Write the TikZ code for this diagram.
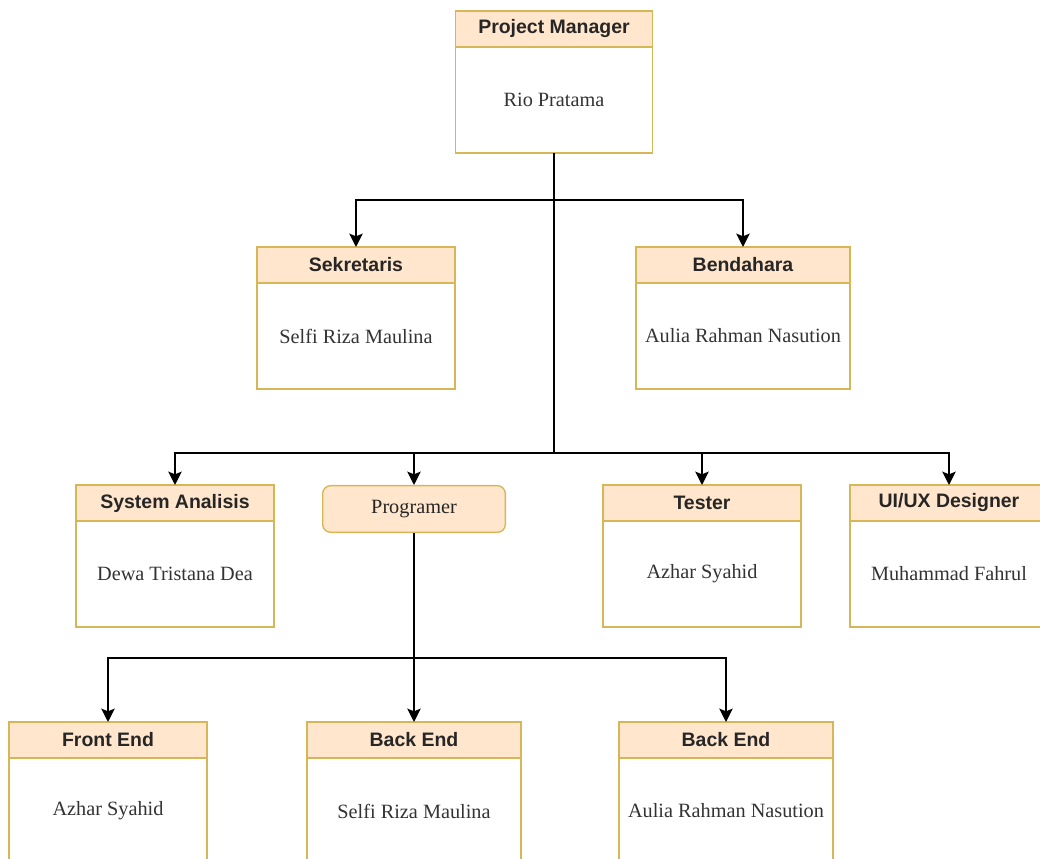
\documentclass[tikz,border=0pt]{standalone}
\usepackage{fontspec}
\setmainfont{Liberation Serif}
\setsansfont{Liberation Sans}
\usepackage{xcolor}
\usetikzlibrary{arrows.meta, positioning}
\definecolor{headfill}{HTML}{FFE6CC}
\definecolor{boxline}{HTML}{D6B656}

\begin{document}
\begin{tikzpicture}[x=0.75pt, y=-0.75pt, ->, >={Stealth[length=10pt, width=10pt, inset=2pt]}]
    \tikzstyle{head} = [draw=boxline, fill=headfill, line width=1pt, minimum width=148.5pt, minimum height=27pt, inner sep=0pt, outer sep=0pt, anchor=north, text=black!85, font=\sffamily\bfseries\fontsize{14.6}{16}\selectfont]
    \tikzstyle{body} = [draw=boxline, fill=white, line width=1pt, minimum width=148.5pt, minimum height=79.5pt, inner sep=0pt, outer sep=0pt, text=black!80, font=\fontsize{15.2}{18}\selectfont]
    \tikzstyle{wide} = [minimum width=160.5pt]
    \tikzstyle{link} = [line width=1.5pt, black]
    \path[-, use as bounding box, clip] (0,0) rectangle (1040,859);
    \fill[-, white] (0,0) rectangle (1040,859);
    % top
    \node [head, minimum width=148pt] at (554,11) (pm) {Project Manager};
    \node [body, minimum width=148pt, below=0pt of pm] (pmb) {Rio Pratama};
    % second row
    \node [head] at (356,247) (sek) {Sekretaris};
    \node [body, below=0pt of sek] (sekb) {Selfi Riza Maulina};
    \node [head, wide] at (743,247) (bend) {Bendahara};
    \node [body, wide, below=0pt of bend] (bendb) {Aulia Rahman Nasution};
    % third row
    \node [head] at (175,485) (sa) {System Analisis};
    \node [body, below=0pt of sa] (sab) {Dewa Tristana Dea};
    \node [draw=boxline, fill=headfill, line width=1pt, rounded corners=6pt, minimum width=137pt, minimum height=35pt, anchor=north, text=black!85, font=\fontsize{15.2}{18}\selectfont] at (414,485) (prog) {Programer};
    \node [head] at (702,485) (tes) {Tester};
    \node [body, below=0pt of tes] (tesb) {Azhar Syahid};
    \node [head] at (949,485) (uiux) {UI/UX Designer};
    \node [body, below=0pt of uiux] (uiuxb) {Muhammad Fahrul};
    % programer team
    \node [head] at (108,722) (fe) {Front End};
    \node [body, below=0pt of fe] (feb) {Azhar Syahid};
    \node [head, wide] at (414,722) (be) {Back End};
    \node [body, wide, below=0pt of be] (beb) {Selfi Riza Maulina};
    \node [head, wide] at (726,722) (be2) {Back End};
    \node [body, wide, below=0pt of be2] (be2b) {Aulia Rahman Nasution};
    % connectors
    \coordinate (j1) at (554,200);
    \coordinate (j2) at (554,453);
    \coordinate (j3) at (414,658);
    \draw[link, -] (pmb.south) -- (j2);
    \draw[link] (j1) -| (sek.north);
    \draw[link] (j1) -| (bend.north);
    \draw[link] (j2) -| (sa.north);
    \draw[link] (j2) -| (prog.north);
    \draw[link] (j2) -| (tes.north);
    \draw[link] (j2) -| (uiux.north);
    \draw[link, -] (prog.south) -- (j3);
    \draw[link] (j3) -| (fe.north);
    \draw[link] (j3) -| (be.north);
    \draw[link] (j3) -| (be2.north);
\end{tikzpicture}
\end{document}
